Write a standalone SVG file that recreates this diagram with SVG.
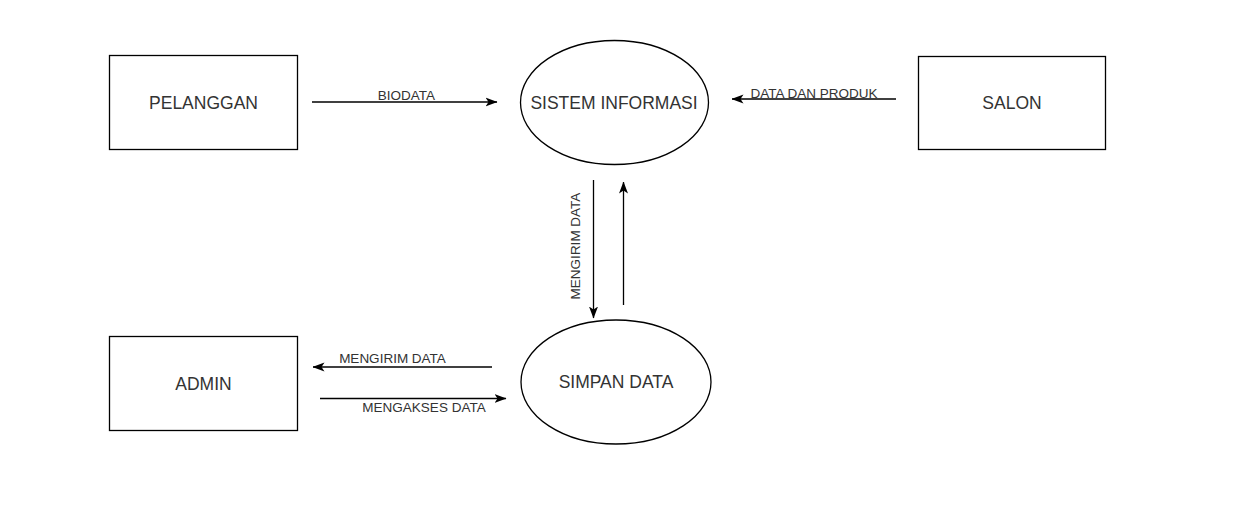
<svg xmlns="http://www.w3.org/2000/svg" width="1242" height="516" viewBox="0 0 1242 516">
<style>
.box{fill:#fff;stroke:#000;stroke-width:1.3}
.node{font-family:"Liberation Sans",Arial,sans-serif;font-size:17.5px;fill:#333;text-anchor:middle;dominant-baseline:central}
.lbl{font-family:"Liberation Sans",Arial,sans-serif;font-size:13.5px;fill:#333;text-anchor:middle}
.edge{stroke:#000;stroke-width:1.3;fill:none}
</style>
<defs>
<marker id="arr" viewBox="0 0 12 10" refX="11.5" refY="5" markerWidth="12" markerHeight="10" markerUnits="userSpaceOnUse" orient="auto">
<path d="M0,0.5 L12,5 L0,9.5 L3,5 Z" fill="#000"/>
</marker>
</defs>
<rect width="1242" height="516" fill="#fff"/>
<g id="pelanggan"><rect class="box" x="109.5" y="55.5" width="188" height="94"/><text class="node" x="203.5" y="102.5">PELANGGAN</text></g>
<g id="salon"><rect class="box" x="918.5" y="56.5" width="187" height="93"/><text class="node" x="1012" y="103">SALON</text></g>
<g id="admin"><rect class="box" x="109.5" y="336.5" width="188" height="94"/><text class="node" x="203.5" y="383.5">ADMIN</text></g>
<g id="sistem"><ellipse class="box" cx="614.5" cy="102.5" rx="94" ry="62"/><text class="node" x="614" y="103">SISTEM INFORMASI</text></g>
<g id="simpan"><ellipse class="box" cx="616" cy="382" rx="95" ry="62"/><text class="node" x="616" y="382">SIMPAN DATA</text></g>
<g id="connectors">
<line class="edge" x1="312" y1="102" x2="497" y2="102" marker-end="url(#arr)"/>
<text class="lbl" x="406.5" y="100">BIODATA</text>
<line class="edge" x1="896" y1="99" x2="732" y2="99" marker-end="url(#arr)"/>
<text class="lbl" x="814" y="98">DATA DAN PRODUK</text>
<line class="edge" x1="593.5" y1="180" x2="593.5" y2="318" marker-end="url(#arr)" stroke="#444"/>
<text class="lbl" x="580" y="246" transform="rotate(-90 580 246)">MENGIRIM DATA</text>
<line class="edge" x1="623.5" y1="305" x2="623.5" y2="182" marker-end="url(#arr)" stroke="#555"/>
<line class="edge" x1="492" y1="367" x2="313" y2="367" marker-end="url(#arr)"/>
<text class="lbl" x="392.5" y="363">MENGIRIM DATA</text>
<line class="edge" x1="320" y1="398.5" x2="506" y2="398.5" marker-end="url(#arr)"/>
<text class="lbl" x="424" y="412">MENGAKSES DATA</text>
</g>
</svg>
